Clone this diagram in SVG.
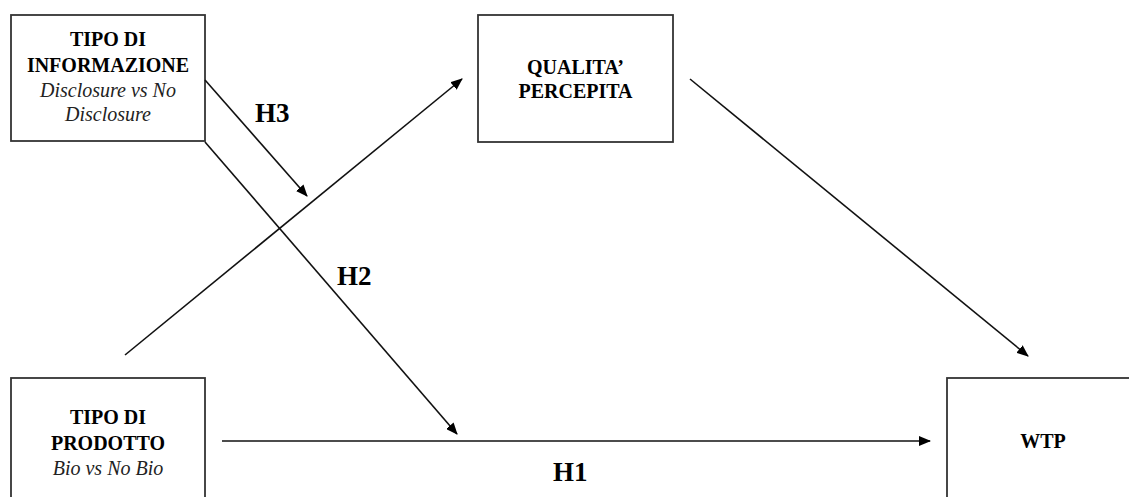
<svg xmlns="http://www.w3.org/2000/svg" width="1129" height="497" viewBox="0 0 1129 497">
<style>
.box{fill:#fff;stroke:#333;stroke-width:1.8}
.b{font-family:"Liberation Serif",serif;font-weight:bold;font-size:20px;fill:#000;text-anchor:middle}
.i{font-family:"Liberation Serif",serif;font-style:italic;font-size:20px;fill:#222;text-anchor:middle}
.h{font-family:"Liberation Serif",serif;font-weight:bold;font-size:27px;fill:#000}
.c{stroke:#111;stroke-width:1.6;fill:none;marker-end:url(#ah)}
</style>
<defs>
<marker id="ah" viewBox="0 0 12 10" refX="11" refY="5" markerWidth="12" markerHeight="10" markerUnits="userSpaceOnUse" orient="auto">
<path d="M0,0 L12,5 L0,10 Z" fill="#000"/>
</marker>
</defs>
<rect width="1129" height="497" fill="#fff"/>
<g id="n-informazione">
<rect class="box" x="11" y="15" width="194" height="126"/>
<text class="b" x="108" y="46">TIPO DI</text>
<text class="b" x="108" y="72">INFORMAZIONE</text>
<text class="i" x="108" y="97">Disclosure vs No</text>
<text class="i" x="108" y="121">Disclosure</text>
</g>
<g id="n-qualita">
<rect class="box" x="478" y="15" width="195" height="127"/>
<text class="b" x="575.5" y="74">QUALITA’</text>
<text class="b" x="575.5" y="98">PERCEPITA</text>
</g>
<g id="n-prodotto">
<rect class="box" x="11" y="378" width="194" height="130"/>
<text class="b" x="108" y="424">TIPO DI</text>
<text class="b" x="108" y="450">PRODOTTO</text>
<text class="i" x="108" y="475">Bio vs No Bio</text>
</g>
<g id="n-wtp">
<rect class="box" x="947" y="378" width="200" height="130"/>
<text class="b" x="1043" y="448">WTP</text>
</g>
<g id="connectors">
<line class="c" x1="222" y1="441" x2="930" y2="441"/>
<line class="c" x1="205" y1="142" x2="457" y2="434"/>
<line class="c" x1="205" y1="80" x2="307" y2="196"/>
<line class="c" x1="125" y1="355" x2="462" y2="79"/>
<line class="c" x1="690" y1="79" x2="1028" y2="356"/>
<text class="h" x="255" y="122">H3</text>
<text class="h" x="337" y="285">H2</text>
<text class="h" x="553" y="481">H1</text>
</g>
</svg>
